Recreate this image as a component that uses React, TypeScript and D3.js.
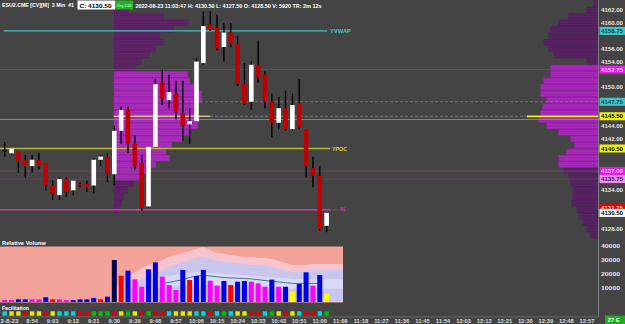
import React from "react";
import * as d3 from "d3";

const FONT = "'Liberation Sans', Arial, sans-serif";

// ---- 3-minute bars from 08:42 ----
const opens = [4140.25, 4139.75, 4140.0, 4138.75, 4137.75, 4138.75, 4138.25, 4134.75, 4133.25, 4135.75, 4134.0, 4135.0, 4135.0, 4134.75, 4138.75, 4139.25, 4136.5, 4143.25, 4146.5, 4141.25, 4138.25, 4131.5, 4140.75, 4150.75, 4148.0, 4149.0, 4146.0, 4144.25, 4144.75, 4153.75, 4159.75, 4159.25, 4156.25, 4158.5, 4156.75, 4150.5, 4147.75, 4153.5, 4152.0, 4147.75, 4144.5, 4146.75, 4143.5, 4147.5, 4143.5, 4137.5, 4136.25, 4128.5];
const highs = [4141.5, 4140.5, 4140.0, 4139.5, 4139.5, 4139.75, 4138.25, 4135.5, 4136.0, 4136.0, 4135.5, 4135.25, 4135.5, 4139.0, 4139.5, 4139.75, 4144.0, 4147.0, 4147.0, 4142.5, 4139.5, 4140.75, 4151.25, 4152.75, 4152.0, 4151.0, 4151.0, 4146.75, 4154.5, 4161.75, 4161.75, 4161.25, 4160.0, 4160.0, 4158.0, 4153.75, 4154.0, 4157.25, 4152.5, 4149.0, 4148.5, 4149.5, 4149.0, 4151.25, 4143.5, 4139.25, 4137.75, 4130.5];
const lows = [4139.25, 4139.5, 4136.75, 4136.0, 4136.75, 4137.25, 4134.0, 4132.5, 4132.5, 4133.0, 4133.25, 4134.5, 4133.75, 4133.5, 4137.75, 4135.25, 4134.75, 4141.25, 4139.75, 4137.25, 4130.75, 4131.25, 4140.75, 4147.25, 4146.75, 4145.0, 4141.75, 4141.25, 4144.75, 4153.5, 4158.75, 4155.75, 4154.0, 4156.25, 4150.25, 4147.25, 4146.5, 4150.75, 4146.75, 4142.25, 4143.5, 4143.25, 4143.25, 4143.5, 4136.0, 4134.5, 4127.75, 4127.5];
const closes = [4140.25, 4140.5, 4138.5, 4137.75, 4138.75, 4137.75, 4134.75, 4133.5, 4135.75, 4133.75, 4135.5, 4134.75, 4134.5, 4138.75, 4139.25, 4136.5, 4143.25, 4146.5, 4141.25, 4137.75, 4131.25, 4140.75, 4150.5, 4148.25, 4149.25, 4146.25, 4144.0, 4144.75, 4154.0, 4159.5, 4159.0, 4156.0, 4158.5, 4156.75, 4150.5, 4147.5, 4153.5, 4151.5, 4147.75, 4144.5, 4146.75, 4143.5, 4147.25, 4143.75, 4137.75, 4136.25, 4128.0, 4130.5];

// ---- relative volume ----
const volumes = [1400, 1400, 1900, 1900, 1900, 1900, 3400, 1900, 1900, 1400, 1400, 1900, 1900, 2900, 1900, 3800, 30000, 18700, 22400, 16200, 10900, 23300, 28300, 18100, 12100, 8600, 22900, 15700, 18600, 22900, 15200, 11700, 15000, 12100, 14500, 15000, 14500, 13300, 10900, 16000, 10900, 10900, 7400, 12900, 21200, 11700, 19300, 5920];
const volKinds = ["m", "m", "b", "b", "m", "m", "b", "r", "m", "m", "b", "b", "b", "b", "r", "b", "n", "r", "b", "m", "m", "b", "b", "m", "m", "m", "b", "r", "b", "b", "m", "m", "b", "r", "b", "b", "m", "m", "m", "b", "m", "b", "y", "b", "b", "m", "b", "y"];
const bandStart = 16;
const pinkTop = [8600, 13600, 17900, 21400, 24300, 26400, 27900, 30000, 32100, 33600, 35000, 36400, 37900, 39300, 37100, 35000, 34300, 33600, 32900, 32100, 32100, 31400, 31400, 30700, 29300, 27900, 26400, 26400, 26400, 27100, 27100, 27100];
const lavTop = [0, 4000, 8600, 13600, 16400, 18600, 20700, 22900, 25000, 27100, 28600, 30000, 31400, 32100, 30700, 29300, 28600, 28600, 27900, 27100, 26400, 26400, 25700, 25000, 23600, 22100, 21400, 21400, 22100, 22900, 22900, 22900];
const lightStart = 22;
const lightTop = [17100, 17900, 18600, 19300, 20000, 20700, 21400, 21400, 20700, 20700, 20000, 20000, 19300, 19300, 18600, 18600, 17900, 17900, 17100, 17100, 16400, 16400, 16400, 16400, 16400, 16400];
const lightBot = [10000, 10400, 10700, 11000, 11400, 11800, 12100, 12100, 11800, 11800, 11400, 11400, 11000, 11000, 10700, 10700, 10400, 10400, 10000, 10000, 9600, 9600, 9600, 9600, 9600, 9600];
const avgStart = 23;
const avgVolume = [13300, 14000, 15000, 16000, 17500, 18500, 19000, 18500, 18000, 17500, 17200, 17000, 16800, 16500, 16000, 15300, 14800, 14300, 13800, 13300, 13300, 13300, 13300, 13300];
const volTicks = [10000, 20000, 30000, 40000];

// ---- facilitation ----
const facil = ["c", "y", "y", "r", "y", "y", "r", "y", "c", "c", "c", "r", "r", "g", "g", "g", "r", "y", "g", "y", "r", "g", "r", "r", "c", "y", "y", "y", "c", "c", "r", "c", "g", "c", "y", "y", "r", "r", "c", "g", "y", "r", "y", "c", "r", "r", "c", "g"];

// ---- volume profiles ----
const sessionStartBar = 16;
const sessionTopPrice = 4162;
const sessionProfile = [1500, 5000, 7500, 6000, 4600, 5000, 4200, 3600, 2800, 2200, 7400, 7600, 8200, 8800, 8800, 8400, 8200, 8600, 8400, 7600, 6800, 5800, 5200, 5600, 4200, 3200, 2600, 2000, 1400, 1000, 800, 500];
const compTopPrice = 4163;
const compProfile = [500, 1200, 3000, 4000, 4800, 5000, 5500, 5000, 4500, 1200, 4800, 4800, 5500, 5800, 5800, 5200, 5600, 5800, 6000, 5200, 4000, 2800, 2400, 3200, 4000, 4000, 3500, 3000, 2800, 2500, 2600, 2700, 2200, 2000, 1600, 1200, 800];

// ---- levels ----
const yvwap = 4158.75;
const vah = 4152.75;
const dashLevel = 4147.75;
const poc = 4145.5;
const grayLevel = 4145.0;
const ypoc = 4140.5;
const val1 = 4137.0;
const val2 = 4135.75;
const lowLevel = 4131.0;

const priceTicks = [4162, 4160, 4158, 4156, 4154, 4152, 4150, 4148, 4146, 4144, 4142, 4140, 4138, 4136, 4134, 4132, 4130, 4128];
const markerLabels = [4158.75, 4152.75, 4147.75, 4145.5, 4140.5, 4137.0, 4135.75, 4131.25, 4130.5];
const markerKinds = ["cyan", "mag", "cyan", "yel", "yel", "mag", "pink", "red", "white"];

const dateLabel = "2-8-23";
const timeLabels = ["8:54", "9:03", "9:12", "9:21", "9:30", "9:39", "9:48", "9:57", "10:06", "10:15", "10:24", "10:33", "10:42", "10:51", "11:00", "11:09", "11:18", "11:27", "11:36", "11:45", "11:54", "12:03", "12:12", "12:21", "12:30", "12:39", "12:48", "12:57"];

const headerSymbol = "ESU2.CME [CV][M]  3 Min  #1";
const headerClose = "C: 4130.50";
const headerChg = "Chg 2.00";
const headerRest = "2022-08-23 11:03:47 H: 4130.50 L: 4127.50 O: 4128.50 V: 5920 TR: 2m 12s";

const volColor: Record<string, string> = { n: "#00004a", b: "#0000e6", r: "#ff0000", m: "#ff00ff", y: "#ffff00" };
const facColor: Record<string, string> = { c: "#00d8e0", y: "#e8e800", r: "#e00000", g: "#00c000" };
const markerStyle: Record<string, [string, string]> = {
  cyan: ["#3cc6c6", "#124444"],
  mag: ["#e81ce8", "#ffc0ff"],
  yel: ["#f2f200", "#000000"],
  pink: ["#f08ef0", "#401040"],
  red: ["#e80000", "#ffc0c0"],
  white: ["#ffffff", "#000000"],
};

export default function App() {
  const x = d3.scaleLinear().domain([0, 85]).range([4.7, 4.7 + 6.85 * 85]);
  const y = d3.scaleLinear().domain([4128, 4162]).range([229, 10]);
  const yv = d3.scaleLinear().domain([0, 40000]).range([302, 246]);
  const pw = d3.scaleLinear().domain([0, 100]).range([0, 1]);
  const AXIS_X = 598.5;
  const PANEL_R = 343;
  const bodyW = 4.6;
  const volW = 5;

  const areaPath = (start: number, top: number[], bottom: ((i: number) => number) | null) => {
    const pts: [number, number, number][] = top.map((v, i) => [x(start + i), yv(v), bottom ? yv(bottom(i)) : yv(0)]);
    const last = pts[pts.length - 1];
    pts.push([PANEL_R, last[1], last[2]]);
    const a = d3.area<[number, number, number]>().x((d) => d[0]).y0((d) => d[2]).y1((d) => d[1]);
    return a(pts) || "";
  };

  const avgLine = d3.line<number>().x((_, i) => x(avgStart + i)).y((v) => yv(v))(avgVolume) || "";

  const profileRows = (top: number, vals: number[], anchorX: number, dir: number, bright: (p: number) => boolean, darkC: string, brightC: string, darkL: string, brightL: string, key: string) =>
    vals.map((v, i) => {
      const p = top - i;
      const y0 = y(p + 0.5);
      const y1 = y(p - 0.5);
      const w = pw(v);
      const x0 = dir > 0 ? anchorX : anchorX - w;
      const b = bright(p);
      const hh = y1 - y0;
      return (
        <g key={key + i}>
          <rect x={x0} y={y0} width={w} height={hh} fill={b ? brightC : darkC} />
          {[0.25, 0.5, 0.75].map((f) => (
            <line key={f} x1={x0} x2={x0 + w} y1={y0 + hh * f} y2={y0 + hh * f} stroke={b ? brightL : darkL} strokeWidth={0.5} />
          ))}
        </g>
      );
    });

  const sessionX = x(sessionStartBar) - 0.5;

  const hiddenTick = (t: number) => markerLabels.some((m) => Math.abs(y(m) - y(t)) < 6.5);

  return (
    <svg width={625} height={324} style={{ position: "absolute", left: 0, top: 0, display: "block" }} fontFamily={FONT}>
      <rect x={0} y={0} width={625} height={324} fill="#444444" />
      <defs>
        <clipPath id="pricePanel">
          <rect x={0} y={0} width={AXIS_X} height={240} />
        </clipPath>
      </defs>

      <g clipPath="url(#pricePanel)">
        {/* profiles */}
        {profileRows(sessionTopPrice, sessionProfile, sessionX, 1, (p) => p <= 4152 && p >= 4136, "#58205f", "#a024b2", "#682a74", "#bb3fcb", "s")}
        {profileRows(compTopPrice, compProfile, AXIS_X, -1, (p) => p <= 4153 && p >= 4138, "#50205c", "#9c20ae", "#622a6e", "#b63ac8", "c")}

        {/* level lines */}
        <line x1={x(0) - 1} x2={327} y1={y(yvwap)} y2={y(yvwap)} stroke="#3fc4c4" strokeWidth={1.2} />
        <line x1={0} x2={AXIS_X} y1={y(vah)} y2={y(vah)} stroke="#8e3a84" strokeWidth={0.8} />
        <line x1={180} x2={AXIS_X} y1={y(dashLevel)} y2={y(dashLevel)} stroke="#6f8c8c" strokeWidth={0.8} strokeDasharray="3,2" />
        <line x1={0} x2={AXIS_X} y1={y(grayLevel)} y2={y(grayLevel)} stroke="#8298a8" strokeWidth={0.8} />
        <line x1={sessionX} x2={210} y1={y(poc)} y2={y(poc)} stroke="#cfc27a" strokeWidth={1.5} />
        <line x1={210} x2={AXIS_X} y1={y(poc)} y2={y(poc)} stroke="#7f9090" strokeWidth={0.8} strokeDasharray="3,2" />
        <line x1={527} x2={AXIS_X} y1={y(poc)} y2={y(poc)} stroke="#eeee00" strokeWidth={1.8} />
        <line x1={0} x2={330} y1={y(ypoc)} y2={y(ypoc)} stroke="#b8b830" strokeWidth={1.3} />
        <line x1={0} x2={AXIS_X} y1={y(val1)} y2={y(val1)} stroke="#7a4672" strokeWidth={0.8} />
        <line x1={0} x2={AXIS_X} y1={y(val2)} y2={y(val2)} stroke="#6c4468" strokeWidth={0.8} />
        <line x1={0} x2={331} y1={y(lowLevel)} y2={y(lowLevel)} stroke="#d03cac" strokeWidth={1.6} />
        <line x1={333} x2={338} y1={y(lowLevel)} y2={y(lowLevel)} stroke="#e02020" strokeWidth={1.4} />
        <text x={340} y={y(lowLevel) + 1.8} fontSize={4.5} fill="#d040c0" fontWeight="bold">AL</text>
        <text x={330} y={y(yvwap) + 2.1} fontSize={5.5} fontWeight="bold" fill="#3fcaca" textLength={21} lengthAdjust="spacingAndGlyphs">YVWAP</text>
        <text x={332} y={y(ypoc) + 2.1} fontSize={5.5} fontWeight="bold" fill="#d8d840" textLength={15} lengthAdjust="spacingAndGlyphs">YPOC</text>

        {/* candles */}
        {opens.map((o, i) => {
          const c = closes[i];
          const cx = x(i);
          const top = y(Math.max(o, c));
          const bot = y(Math.min(o, c));
          const fill = c > o ? "#ffffff" : c < o ? "#c00000" : "#000000";
          return (
            <g key={"k" + i}>
              <line x1={cx} x2={cx} y1={y(highs[i])} y2={y(lows[i])} stroke="#000" strokeWidth={1.4} />
              <rect x={cx - bodyW / 2} y={top} width={bodyW} height={Math.max(1.2, bot - top)} fill={fill} />
            </g>
          );
        })}
      </g>

      {/* header */}
      <text x={2} y={7.4} fontSize={5.4} fontWeight="bold" fill="#ffffff" textLength={72} lengthAdjust="spacingAndGlyphs" xmlSpace="preserve">{headerSymbol}</text>
      <rect x={77.5} y={0.5} width={37.5} height={9} fill="#ffffff" />
      <text x={79.5} y={7.6} fontSize={6} fontWeight="bold" fill="#000" textLength={32} lengthAdjust="spacingAndGlyphs">{headerClose}</text>
      <rect x={115} y={0.5} width={18} height={9} fill="#23b023" />
      <text x={116.5} y={7.2} fontSize={4.3} fontWeight="bold" fill="#aef0ae" textLength={15} lengthAdjust="spacingAndGlyphs">{headerChg}</text>
      <text x={135.5} y={7.6} fontSize={6} fontWeight="bold" fill="#ffffff" textLength={186} lengthAdjust="spacingAndGlyphs">{headerRest}</text>

      {/* right axis */}
      <line x1={AXIS_X} x2={AXIS_X} y1={0} y2={317} stroke="#7a7a7a" strokeWidth={1} />
      {priceTicks.filter((t) => !hiddenTick(t)).map((t) => (
        <text key={"pt" + t} x={601} y={y(t) + 2.1} fontSize={6} fontWeight="bold" fill="#e6e6e6" textLength={22} lengthAdjust="spacingAndGlyphs">{t.toFixed(2)}</text>
      ))}
      {markerLabels.map((m, i) => {
        const [bg, fg] = markerStyle[markerKinds[i]];
        return (
          <g key={"ml" + i}>
            <rect x={599.5} y={y(m) - 4} width={25.5} height={8} fill={bg} />
            <text x={601} y={y(m) + 2.1} fontSize={6} fontWeight="bold" fill={fg} textLength={22} lengthAdjust="spacingAndGlyphs">{m.toFixed(2)}</text>
          </g>
        );
      })}

      {/* relative volume panel */}
      <text x={2} y={245.3} fontSize={5.8} fontWeight="bold" fill="#ffffff" textLength={44} lengthAdjust="spacingAndGlyphs">Relative Volume</text>
      <rect x={0} y={246.5} width={PANEL_R} height={56} fill="#f3a29a" />
      <path d={areaPath(bandStart, pinkTop, null)} fill="#f6c4cd" />
      <path d={areaPath(bandStart, lavTop, null)} fill="#c9c6ee" />
      <path d={areaPath(lightStart, lightTop, (i) => lightBot[i])} fill="#d7daf6" />
      <path d={avgLine} fill="none" stroke="#3d6a6c" strokeWidth={0.9} />
      {volumes.map((v, i) => (
        <rect key={"v" + i} x={x(i) - volW / 2} y={yv(v)} width={volW} height={yv(0) - yv(v)} fill={volColor[volKinds[i]]} />
      ))}
      {volTicks.map((t) => (
        <text key={"vt" + t} x={601} y={yv(t) + 2.1} fontSize={6} fontWeight="bold" fill="#e6e6e6" textLength={19} lengthAdjust="spacingAndGlyphs">{t}</text>
      ))}

      {/* facilitation */}
      <text x={2} y={309.8} fontSize={5.5} fontWeight="bold" fill="#ffffff" textLength={27} lengthAdjust="spacingAndGlyphs">Facilitation</text>
      {facil.map((f, i) => (
        <rect key={"f" + i} x={x(i) - 2.2} y={311.3} width={4.4} height={4.4} fill={facColor[f]} />
      ))}
      <line x1={0} x2={AXIS_X} y1={316.8} y2={316.8} stroke="#6e6e6e" strokeWidth={0.8} />

      {/* time axis */}
      <text x={0.5} y={322.6} fontSize={5.8} fill="#dddddd" fontWeight="bold" textLength={18} lengthAdjust="spacingAndGlyphs">{dateLabel}</text>
      {timeLabels.map((t, k) => (
        <text key={"tl" + k} x={x(4 + 3 * k)} y={322.6} fontSize={5.8} fill="#dddddd" fontWeight="bold" textAnchor="middle">{t}</text>
      ))}
      <rect x={605} y={315.5} width={20} height={8.5} fill="#1faa1f" />
      <text x={607.5} y={322.3} fontSize={6} fontWeight="bold" fill="#e8ffe8">27 E</text>
    </svg>
  );
}
